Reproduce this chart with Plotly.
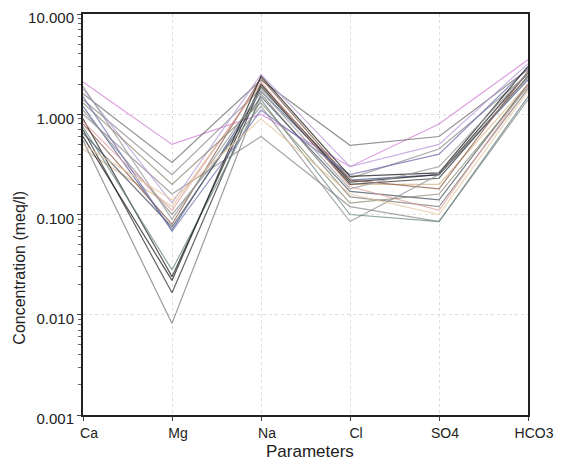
import plotly.graph_objects as go

params = ["Ca", "Mg", "Na", "Cl", "SO4", "HCO3"]

# each sample: concentrations (meq/l) at Ca, Mg, Na, Cl, SO4, HCO3
s01 = [2.1, 0.50, 1.00, 0.30, 0.80, 3.5]
s02 = [1.6, 0.33, 2.2, 0.49, 0.60, 2.8]
s03 = [1.4, 0.25, 1.8, 0.23, 0.45, 2.5]
s04 = [0.45, 0.12, 2.0, 0.20, 0.20, 2.0]
s05 = [1.2, 0.070, 1.7, 0.22, 0.25, 2.2]
s06 = [0.9, 0.024, 2.0, 0.21, 0.25, 2.6]
s07 = [0.7, 0.0166, 1.9, 0.20, 0.23, 2.4]
s08 = [0.55, 0.0082, 1.6, 0.15, 0.12, 1.8]
s09 = [1.0, 0.16, 0.60, 0.12, 0.085, 1.4]
s10 = [1.8, 0.13, 2.5, 0.30, 0.50, 3.2]
s11 = [0.8, 0.080, 2.3, 0.22, 0.18, 2.7]
s12 = [0.65, 0.075, 1.5, 0.17, 0.14, 2.0]
s13 = [1.1, 0.10, 1.2, 0.085, 0.25, 2.3]
s14 = [0.75, 0.028, 1.4, 0.10, 0.085, 1.5]
s15 = [0.85, 0.11, 2.1, 0.19, 0.11, 2.0]
s16 = [1.3, 0.20, 1.3, 0.13, 0.16, 1.9]
s17 = [1.5, 0.068, 1.1, 0.25, 0.40, 2.9]
s18 = [0.6, 0.022, 2.4, 0.24, 0.26, 3.0]
s19 = [1.9, 0.090, 1.7, 0.18, 0.30, 2.6]
s20 = [0.5, 0.14, 0.9, 0.16, 0.10, 1.7]

samples = [s01, s02, s03, s04, s05, s06, s07, s08, s09, s10,
           s11, s12, s13, s14, s15, s16, s17, s18, s19, s20]
colors = ["#d27fd6", "#707070", "#8a8a8a", "#d9b98a", "#4a5a8a",
          "#202020", "#303030", "#7a7a7a", "#8c8c8c", "#b89ad8",
          "#8a5a4a", "#4a5560", "#909090", "#6a8585", "#e0a0a0",
          "#8a8a70", "#7070b0", "#1a1a1a", "#9a9a9a", "#e6c9a0"]

tick_vals = [0.001, 0.01, 0.1, 1, 10]
tick_text = ["0.001", "0.010", "0.100", "1.000", "10.000"]

fig = go.Figure()
xs = list(range(len(params)))
for vals, c in zip(samples, colors):
    fig.add_trace(go.Scatter(x=xs, y=vals, mode="lines",
                             line=dict(color=c, width=1.2), opacity=0.75,
                             showlegend=False, hoverinfo="skip"))

font = "Liberation Sans, Arial, sans-serif"
fig.update_layout(
    width=556, height=454,
    margin=dict(l=75, r=36, t=6, b=47, autoexpand=False),
    paper_bgcolor="white", plot_bgcolor="white",
    font=dict(family=font, color="#222222", size=14),
    annotations=[
        dict(text="Concentration (meq/l)", textangle=-90, xref="paper", yref="paper",
             x=-0.142, y=0.367, xanchor="center", yanchor="middle",
             showarrow=False, font=dict(size=16, color="#222222")),
        dict(text="Parameters", xref="paper", yref="paper", x=0.51, y=-0.092,
             xanchor="center", yanchor="middle",
             showarrow=False, font=dict(size=17, color="#222222")),
    ],
)
fig.update_xaxes(range=[0, 5], tickvals=xs, ticktext=params, automargin=False,
                 showline=True, linecolor="#222222", linewidth=2, mirror=True,
                 showgrid=True, gridcolor="#dddddd", griddash="dot", gridwidth=1,
                 ticks="outside", ticklen=4, tickcolor="#444444",
                 ticklabelshift=6, zeroline=False, tickfont=dict(size=14))
fig.update_yaxes(type="log", range=[-3, 1], tickvals=tick_vals, ticktext=tick_text,
                 automargin=False, ticklabeloverflow="allow", ticklabelshift=4,
                 showline=True, linecolor="#222222", linewidth=2, mirror=True,
                 showgrid=True, gridcolor="#dddddd", griddash="dot", gridwidth=1,
                 ticks="outside", ticklen=4, tickcolor="#444444",
                 minor=dict(ticks="outside", ticklen=3, tickcolor="#666666",
                            dtick="D1", showgrid=False),
                 zeroline=False, tickfont=dict(size=15))

fig.write_html("out.html")
